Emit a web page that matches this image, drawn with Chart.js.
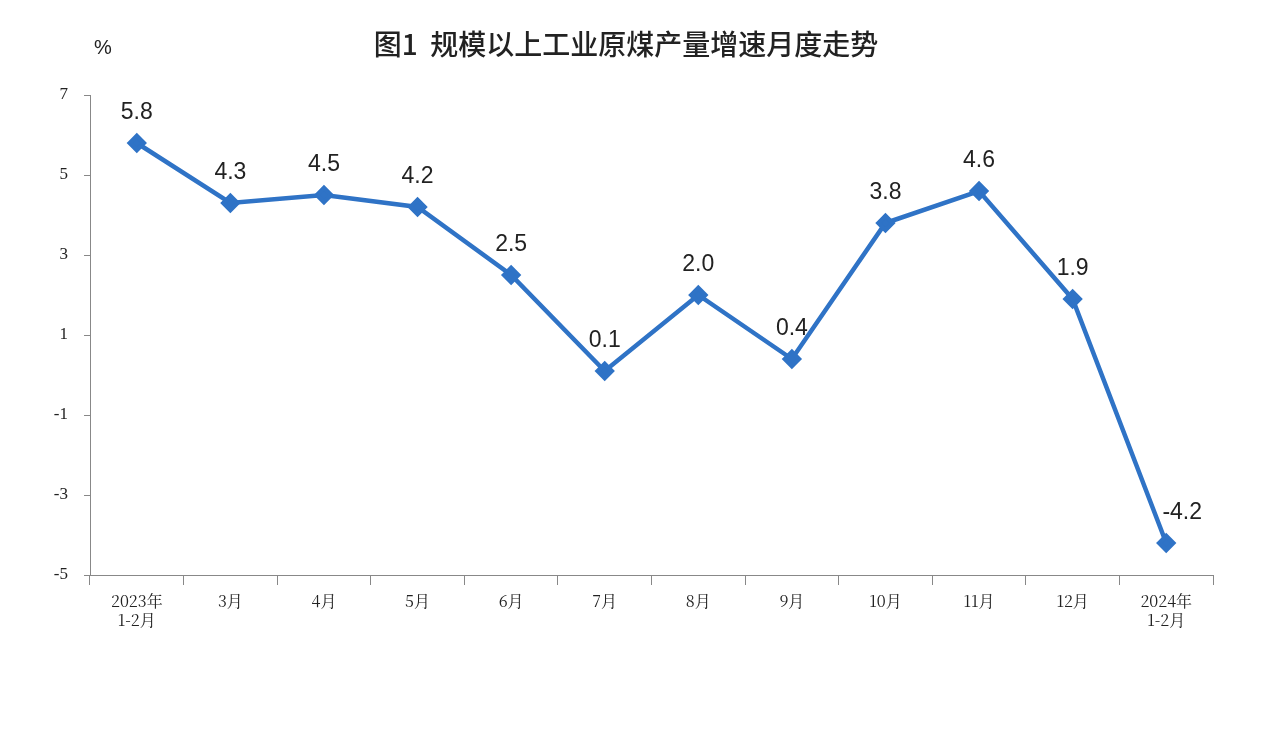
<!DOCTYPE html>
<html>
<head>
<meta charset="utf-8">
<script src="https://cdn.jsdelivr.net/npm/chart.js@4"></script>
<style>
body { margin: 0; background: #fff; }
#wrap { width: 1282px; height: 730px; }
</style>
</head>
<body>
<div id="wrap"><canvas id="coalChart"></canvas></div>
<script>
const months = [['2023年', '1-2月'], '3月', '4月', '5月', '6月', '7月', '8月', '9月', '10月', '11月', '12月', ['2024年', '1-2月']];
const growth = [5.8, 4.3, 4.5, 4.2, 2.5, 0.1, 2.0, 0.4, 3.8, 4.6, 1.9, -4.2];
const titleText = '图1  规模以上工业原煤产量增速月度走势';
const unitText = '%';

const blue = '#2F73C6';

// titulo, unidad y etiquetas de valores
const extras = {
    id: 'extras',
    afterDatasetsDraw(chart) {
        const ctx = chart.ctx;
        ctx.save();
        ctx.fillStyle = '#222';
        ctx.textAlign = 'center';
        ctx.textBaseline = 'middle';
        ctx.font = '500 28px "Noto Sans CJK SC"';
        ctx.fillText(titleText, 626, 44);
        ctx.font = '20px "Liberation Sans"';
        ctx.fillText(unitText, 103, 48);

        ctx.font = '23px "Liberation Sans"';
        const meta = chart.getDatasetMeta(0);
        meta.data.forEach((pt, i) => {
            const dx = growth[i] < 0 ? 16 : 0;
            ctx.fillText(growth[i].toFixed(1), pt.x + dx, pt.y - 30);
        });
        ctx.restore();
    }
};

new Chart(document.getElementById('coalChart'), {
    type: 'line',
    data: {
        labels: months,
        datasets: [{
            data: growth,
            borderColor: blue,
            backgroundColor: blue,
            borderWidth: 4.5,
            pointStyle: 'rectRot',
            pointRadius: 7,
            pointHoverRadius: 7,
            tension: 0,
        }]
    },
    plugins: [extras],
    options: {
        responsive: true,
        maintainAspectRatio: false,
        animation: false,
        layout: { padding: { top: 95, right: 69, left: 0, bottom: 0 } },
        plugins: { legend: { display: false }, tooltip: { enabled: false } },
        scales: {
            x: {
                offset: true,
                afterFit: (s) => { s.height = 155; },
                grid: { offset: true, drawOnChartArea: false, tickLength: 10, color: '#888' },
                border: { color: '#888', width: 1 },
                ticks: { color: '#222', font: { family: '"Noto Serif CJK SC", "Liberation Serif", serif', size: 16 }, maxRotation: 0, padding: 6 }
            },
            y: {
                min: -5,
                max: 7,
                afterFit: (s) => { s.width = 90; },
                grid: { drawOnChartArea: false, tickLength: 6, color: '#888' },
                border: { color: '#888', width: 1 },
                ticks: { stepSize: 2, color: '#222', font: { family: '"Liberation Serif", serif', size: 17 }, padding: 16 }
            }
        }
    }
});
</script>
</body>
</html>
